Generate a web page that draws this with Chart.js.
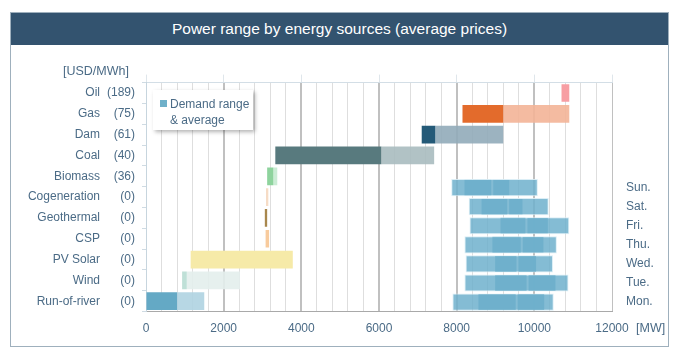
<!DOCTYPE html>
<html>
<head>
<meta charset="utf-8">
<script src="https://cdn.jsdelivr.net/npm/chart.js@4"></script>
<style>
  body { margin: 0; background: #fff; font-family: "Liberation Sans", Arial, sans-serif; }
  #wrap { position: relative; width: 679px; height: 362px; }
  #frame { position: absolute; left: 10px; top: 12px; width: 657px; height: 333px; border: 1px solid #9fb0bd; }
  #title { position: absolute; left: 11px; top: 13px; width: 657px; height: 32px; background: #33536f;
           color: #fff; font-size: 15.5px; line-height: 32px; text-align: center; }
  #myChart { position: absolute; left: 0; top: 0; }
  .unit { position: absolute; color: #4b6b86; font-size: 12.5px; }
  #legendBox { position: absolute; left: 153px; top: 90px; width: 100px; height: 40px; background: #fff;
               box-shadow: 2px 2px 4px rgba(0,0,0,0.3); color: #4b6b86; font-size: 12px; line-height: 16px; z-index: 2; }
  #legendBox .sw { position: absolute; left: 7px; top: 10px; width: 7px; height: 7px; background: #6fb0c9; }
  #legendBox .tx { position: absolute; left: 17px; top: 6px; white-space: nowrap; }
</style>
</head>
<body>
<div id="wrap">
  <div id="frame"></div>
  <div id="title">Power range by energy sources (average prices)</div>
  <canvas id="myChart" width="679" height="362"></canvas>
  <span class="unit" style="left:63px; top:64px;">[USD/MWh]</span>
  <span class="unit" style="left:636px; top:321px;">[MW]</span>
  <div id="legendBox"><span class="sw"></span><span class="tx">Demand range<br>&amp; average</span></div>
</div>
<script>
// 발전원 (위에서 아래 순서)
const sources = ['Oil', 'Gas', 'Dam', 'Coal', 'Biomass', 'Cogeneration', 'Geothermal', 'CSP', 'PV Solar', 'Wind', 'Run-of-river']
const prices = ['(189)', '(75)', '(61)', '(40)', '(36)', '(0)', '(0)', '(0)', '(0)', '(0)', '(0)']
// 진한 구간 / 연한 구간 [MW]
const baseRange = [[10700, 10900], [8150, 9200], [7100, 7450], [3330, 6060], [3120, 3280], [3090, 3150], [3060, 3120], [3080, 3170], [1150, 3780], [930, 1050], [0, 800]]
const extRange = [null, [9200, 10900], [7450, 9200], [6060, 7420], [3280, 3380], null, null, null, null, [1050, 2420], [800, 1500]]
const baseColors = ['#f79ea3', '#e36b2c', '#245a78', '#587a7e', '#8ed39d', '#f6dcc6', '#a8874d', '#f8cb9d', '#f6eaa8', '#bfe0d7', '#64a9c5']
const extColors = [null, '#f3b497', '#91abb9', '#a9bbbf', '#c5ead0', null, null, null, null, '#e3eeec', '#afd3e1']

// 요일별 수요
const days = ['Sun.', 'Sat.', 'Fri.', 'Thu.', 'Wed.', 'Tue.', 'Mon.']
const demandMin = [7860, 8310, 8330, 8200, 8230, 8200, 7890]
const demandLow = [8200, 8640, 9130, 8920, 8990, 8990, 8560]
const demandAvg = [8890, 9300, 9770, 9650, 9540, 9800, 9520]
const demandHigh = [9360, 9700, 10350, 10240, 10050, 10550, 10260]
const demandMax = [10090, 10370, 10900, 10580, 10480, 10880, 10500]

const xTicks = [0, 2000, 4000, 6000, 8000, 10000, 12000]

// 오른쪽 축: 위 5칸은 비워둔다
const blanks = ['', '', '', '', '']
const dayLabels = blanks.concat(days)
const pad = arr => blanks.map(() => null).concat(arr)
const dayData = (a, b) => pad(a.map((v, i) => [v, b[i]]))

const textColor = '#4b6b86'
const font = { family: '"Liberation Sans", Arial, sans-serif', size: 12 }

var chartArea = document.getElementById('myChart').getContext('2d')
var myChart = new Chart(chartArea, {
  type: 'bar',
  data: {
    datasets: [{
      label: 'base',
      data: baseRange,
      backgroundColor: baseColors,
      yAxisID: 'y',
      grouped: false,
      barPercentage: 0.85,
      categoryPercentage: 1
    }, {
      label: 'ext',
      data: extRange,
      backgroundColor: extColors.map(c => c ? c + 'e6' : c),
      yAxisID: 'y',
      grouped: false,
      barPercentage: 0.85,
      categoryPercentage: 1
    }, {
      label: 'range',
      data: dayData(demandMin, demandMax),
      backgroundColor: 'rgba(110,176,204,0.85)',
      borderColor: 'rgba(215,236,245,0.9)',
      borderWidth: 1,
      borderSkipped: false,
      yAxisID: 'y2',
      grouped: false,
      barPercentage: 0.9,
      categoryPercentage: 1
    }, {
      label: 'lowAvg',
      data: dayData(demandLow, demandAvg),
      backgroundColor: 'rgba(96,168,197,0.85)',
      yAxisID: 'y2',
      grouped: false,
      barPercentage: 0.84,
      categoryPercentage: 1
    }, {
      label: 'avgHigh',
      data: dayData(demandAvg, demandHigh),
      backgroundColor: 'rgba(96,168,197,0.85)',
      borderColor: 'rgba(255,255,255,0.9)',
      borderWidth: { left: 2, right: 0, top: 0, bottom: 0 },
      borderSkipped: false,
      yAxisID: 'y2',
      grouped: false,
      barPercentage: 0.84,
      categoryPercentage: 1
    }]
  },
  options: {
    indexAxis: 'y',
    responsive: false,
    animation: false,
    devicePixelRatio: 1,
    layout: { padding: { left: 0, right: 0, top: 74.6, bottom: 10.4 } },
    plugins: { legend: { display: false }, tooltip: { enabled: false } },
    scales: {
      x: {
        type: 'linear',
        position: 'bottom',
        min: 0,
        max: 12000,
        afterBuildTicks: s => { s.ticks = []; for (let v = 0; v <= 12000; v += 400) s.ticks.push({ value: v }) },
        ticks: {
          autoSkip: false,
          maxRotation: 0,
          padding: 10,
          color: textColor,
          font: font,
          callback: v => xTicks.includes(v) ? String(v) : ''
        },
        grid: {
          drawTicks: false,
          color: c => xTicks.includes(c.tick.value) ? '#c0c0c0' : '#dedede',
          lineWidth: c => xTicks.includes(c.tick.value) && c.tick.value > 0 && c.tick.value < 12000 ? 2 : 1
        },
        border: { color: '#a9a9a9' },
        afterFit: s => { s.height = 40 }
      },
      x2: {
        type: 'linear',
        position: 'top',
        min: 0,
        max: 12000,
        ticks: { display: false, stepSize: 2000 },
        grid: { drawOnChartArea: false, tickLength: 8, color: '#dfe6eb' },
        border: { color: '#d3dee6' }
      },
      y: {
        type: 'category',
        position: 'left',
        labels: prices,
        offset: true,
        weight: 0,
        ticks: { padding: 7, color: textColor, font: font },
        grid: { offset: true, drawOnChartArea: false, tickLength: 4, color: '#cfdbe3' },
        border: { color: '#c7d5de' },
        afterFit: s => { s.width = 42 }
      },
      yn: {
        type: 'category',
        position: 'left',
        labels: sources,
        offset: true,
        weight: 1,
        ticks: { padding: 4, color: textColor, font: font },
        grid: { display: false, drawTicks: false },
        border: { display: false },
        afterFit: s => { s.width = 104 }
      },
      y2: {
        type: 'category',
        position: 'right',
        labels: dayLabels,
        offset: true,
        ticks: { padding: 14, color: textColor, font: font },
        grid: { display: false, drawTicks: false },
        border: { display: false },
        afterFit: s => { s.width = 67 }
      }
    }
  }
})
</script>
</body>
</html>
